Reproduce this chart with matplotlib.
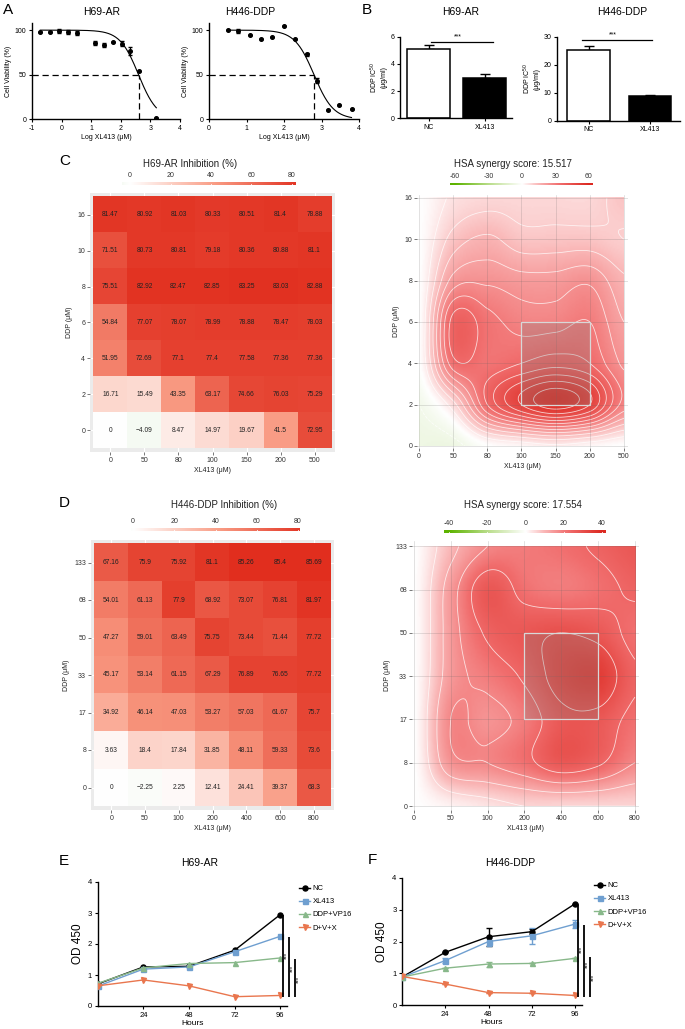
import numpy as np
import matplotlib
matplotlib.use("Agg")
import matplotlib.pyplot as plt
from matplotlib.colors import LinearSegmentedColormap, Normalize
from matplotlib.lines import Line2D

plt.rcParams["font.family"] = ["Liberation Sans", "DejaVu Sans"]
plt.rcParams["mathtext.fontset"] = "custom"
plt.rcParams["mathtext.rm"] = "Liberation Sans"
plt.rcParams["axes.unicode_minus"] = False

# ===================== Data =====================
# A: dose response (log XL413, viability %)
A1_X = [-0.72, -0.40, -0.09, 0.22, 0.53, 1.13, 1.43, 1.72, 2.03, 2.31, 2.63, 3.20]
A1_Y = [97.8, 97.4, 98.9, 97.7, 97.0, 85.8, 83.2, 87.0, 85.0, 76.5, 54.0, 1.0]
A1_E = [0, 0, 2.5, 2.5, 2.5, 2.0, 2.5, 0, 3.0, 4.5, 0, 0]
A1_FIT = dict(top=100.0, bottom=0.0, logic50=2.6, hill=1.38, lo=-0.72, hi=3.2)

A2_X = [0.50, 0.78, 1.09, 1.38, 1.69, 2.00, 2.29, 2.60, 2.88, 3.18, 3.47, 3.80]
A2_Y = [100.0, 99.0, 94.4, 89.6, 92.5, 105.0, 90.0, 73.0, 43.5, 10.4, 16.0, 11.0]
A2_E = [0, 2.5, 0, 0, 0, 0, 0, 1.5, 3.0, 0, 0, 0]
A2_FIT = dict(top=100.0, bottom=0.0, logic50=2.8, hill=1.69, lo=0.5, hi=3.8)

# B: DDP IC50
B_GROUPS = ["NC", "XL413"]
B1_VALS = [5.07, 2.99]
B1_ERR = [0.32, 0.24]
B2_VALS = [25.2, 8.9]
B2_ERR = [1.5, 0.45]

# C / D: inhibition matrices (rows from top DDP high -> low)
C_X_LABELS = ["0", "50", "80", "100", "150", "200", "500"]
C_Y_LABELS = ["0", "2", "4", "6", "8", "10", "16"]
C_INHIB = [
    [81.47, 80.92, 81.03, 80.33, 80.51, 81.4, 78.88],
    [71.51, 80.73, 80.81, 79.18, 80.36, 80.88, 81.1],
    [75.51, 82.92, 82.47, 82.85, 83.25, 83.03, 82.88],
    [54.84, 77.07, 78.07, 78.99, 78.88, 78.47, 78.03],
    [51.95, 72.69, 77.1, 77.4, 77.58, 77.36, 77.36],
    [16.71, 15.49, 43.35, 63.17, 74.66, 76.03, 75.29],
    [0, -4.09, 8.47, 14.97, 19.67, 41.5, 72.95],
]
# HSA synergy scores estimated from the map (rows bottom DDP 0 -> top)
C_SYN = [
    [-7, -7, 0, 2, 4, 2, 0],
    [-5, 8, 35, 50, 58, 50, 28],
    [0, 33, 32, 35, 38, 35, 24],
    [0, 37, 32, 28, 28, 30, 20],
    [0, 22, 24, 22, 22, 24, 16],
    [0, 12, 16, 12, 12, 12, 10],
    [0, 6, 8, 8, 8, 8, 12],
]
C_BOX = (3, 5, 1, 3)  # x0, x1, y0, y1 grid index

D_X_LABELS = ["0", "50", "100", "200", "400", "600", "800"]
D_Y_LABELS = ["0", "8", "17", "33", "50", "68", "133"]
D_INHIB = [
    [67.16, 75.9, 75.92, 81.1, 85.26, 85.4, 85.69],
    [54.01, 61.13, 77.9, 68.92, 73.07, 76.81, 81.97],
    [47.27, 59.01, 63.49, 75.75, 73.44, 71.44, 77.72],
    [45.17, 53.14, 61.15, 67.29, 76.89, 76.65, 77.72],
    [34.92, 46.14, 47.03, 53.27, 57.03, 61.67, 75.7],
    [3.63, 18.4, 17.84, 31.85, 48.11, 59.33, 73.6],
    [0, -2.25, 2.25, 12.41, 24.41, 39.37, 68.3],
]
D_SYN = [
    [0, 2, 4, 6, 6, 6, 6],
    [0, 16, 18, 22, 28, 25, 18],
    [0, 18, 16, 20, 28, 28, 22],
    [0, 15, 20, 25, 33, 35, 25],
    [0, 15, 25, 28, 30, 28, 22],
    [0, 15, 28, 22, 20, 22, 25],
    [0, 10, 18, 20, 22, 25, 28],
]
D_BOX = (3, 5, 2, 4)

# E / F: growth curves
HOURS = [0, 24, 48, 72, 96]
SERIES = ["NC", "XL413", "DDP+VP16", "D+V+X"]
E_VALS = {
    "NC": [0.71, 1.26, 1.28, 1.80, 2.95],
    "XL413": [0.64, 1.19, 1.26, 1.75, 2.25],
    "DDP+VP16": [0.73, 1.23, 1.37, 1.40, 1.55],
    "D+V+X": [0.65, 0.84, 0.65, 0.30, 0.34],
}
F_VALS = {
    "NC": [0.88, 1.66, 2.15, 2.31, 3.19],
    "XL413": [0.88, 1.40, 2.00, 2.18, 2.55],
    "DDP+VP16": [0.88, 1.16, 1.29, 1.31, 1.47],
    "D+V+X": [0.90, 0.66, 0.39, 0.37, 0.30],
}
F_ERR = {
    "NC": [0, 0, 0.28, 0.08, 0],
    "XL413": [0, 0.08, 0.15, 0.25, 0.12],
    "DDP+VP16": [0, 0, 0.08, 0, 0],
    "D+V+X": [0, 0, 0, 0, 0],
}
E_SIG = [(2.95, 0.30), (2.23, 0.30), (1.53, 0.30)]
F_SIG = [(3.16, 0.26), (2.53, 0.26), (1.50, 0.26)]

COLORS = {"NC": "#000000", "XL413": "#6F9FD0", "DDP+VP16": "#88B88A", "D+V+X": "#E9764E"}
MARKERS = {"NC": "o", "XL413": "s", "DDP+VP16": "^", "D+V+X": "v"}

# ===================== Layout helpers =====================
W, H = 685, 1029
fig = plt.figure(figsize=(W / 100, H / 100), dpi=100)


def px_axes(x0, y0, x1, y1):
    return fig.add_axes([x0 / W, 1 - y1 / H, (x1 - x0) / W, (y1 - y0) / H])


def ftext(x, y, s, **kw):
    kw.setdefault("ha", "center")
    kw.setdefault("va", "center")
    return fig.text(x / W, 1 - y / H, s, **kw)


def prism_style(ax):
    for s in ["top", "right"]:
        ax.spines[s].set_visible(False)
    for s in ["left", "bottom"]:
        ax.spines[s].set_linewidth(1.0)
    ax.tick_params(direction="out", length=2.5, width=0.8, labelsize=5, pad=1.5)


def upsample(z, n=140):
    z = np.asarray(z, float)

    def interp(a, t):
        m = a.shape[0]
        i = np.clip(np.floor(t).astype(int), 0, m - 2)
        f = (t - i)[:, None]
        p0 = a[np.clip(i - 1, 0, m - 1)]
        p1 = a[i]
        p2 = a[i + 1]
        p3 = a[np.clip(i + 2, 0, m - 1)]
        return 0.5 * (2 * p1 + (-p0 + p2) * f + (2 * p0 - 5 * p1 + 4 * p2 - p3) * f ** 2
                      + (-p0 + 3 * p1 - 3 * p2 + p3) * f ** 3)

    zz = interp(z, np.linspace(0, z.shape[0] - 1, n))
    zz = interp(zz.T, np.linspace(0, z.shape[1] - 1, n)).T
    return zz


INHIB_CMAP = LinearSegmentedColormap.from_list(
    "inhib", [(0, "#4DAC26"), (0.5, "#FFFFFF"), (0.75, "#F99B83"), (1.0, "#E12E1E")])
INHIB_NORM = Normalize(-85, 85)
SYN_CMAP = LinearSegmentedColormap.from_list(
    "syn", [(0, "#5DB300"), (0.25, "#B9DD8A"), (0.5, "#FFFFFF"), (0.62, "#FAB9B9"),
            (0.78, "#F16E6E"), (1.0, "#DC2A22")])

# ===================== Panel A =====================
def dose_panel(box, xs, ys, es, fit, xlim, xticks, title, title_x):
    ax = px_axes(*box)
    prism_style(ax)
    xx = np.linspace(fit["lo"], fit["hi"], 200)
    yy = fit["bottom"] + (fit["top"] - fit["bottom"]) / (1 + 10 ** ((xx - fit["logic50"]) * fit["hill"]))
    ax.plot(xx, yy, color="black", lw=0.8)
    ax.errorbar(xs, ys, yerr=es, fmt="o", ms=2.6, color="black", capsize=1.5, elinewidth=0.8)
    ax.plot([xlim[0], fit["logic50"]], [50, 50], ls=(0, (5, 3)), color="black", lw=0.9)
    ax.plot([fit["logic50"], fit["logic50"]], [0, 50], ls=(0, (5, 3)), color="black", lw=0.9)
    ax.set_xlim(*xlim)
    ax.set_ylim(0, 108)
    ax.set_xticks(xticks)
    ax.set_yticks([0, 50, 100])
    ax.set_xlabel("Log XL413 (μM)", fontsize=5, labelpad=1.5)
    ax.set_ylabel("Cell Viability (%)", fontsize=5, labelpad=2)
    ftext(title_x, 12, title, fontsize=7.5)
    return ax


dose_panel((32, 23, 180, 119.3), A1_X, A1_Y, A1_E, A1_FIT, (-1, 4), range(-1, 5), "H69-AR", 102)
dose_panel((209, 23, 359, 119.3), A2_X, A2_Y, A2_E, A2_FIT, (0, 4), range(0, 5), "H446-DDP", 250)

# ===================== Panel B =====================
def bar_panel(box, vals, errs, xlim, width, ymax, yticks, sig_y, sig_x, title, title_x):
    ax = px_axes(*box)
    prism_style(ax)
    xs = np.arange(len(vals))
    ax.bar(xs, vals, width=width, color=["white", "black"], edgecolor="black", lw=1.1, zorder=2)
    ax.errorbar(xs, vals, yerr=[[0, 0], errs], fmt="none", ecolor="black", capsize=3.5,
                elinewidth=1.0, capthick=1.0, zorder=1)
    ax.plot(sig_x, [sig_y, sig_y], color="black", lw=0.9)
    ax.text(np.mean(sig_x) - 0.07, sig_y + ymax * 0.015, "***", ha="center", va="bottom", fontsize=5)
    ax.set_xlim(*xlim)
    ax.set_ylim(0, ymax)
    ax.set_xticks(xs)
    ax.set_xticklabels(B_GROUPS)
    ax.set_yticks(yticks)
    ax.set_ylabel("DDP IC$^{50}$\n(μg/ml)", fontsize=5, labelpad=2, linespacing=1.1)
    ftext(title_x, 12, title, fontsize=7.5)
    return ax


bar_panel((400, 36.7, 512, 118.3), B1_VALS, B1_ERR, (-0.51, 1.49), 0.77, 6, [0, 2, 4, 6],
          5.64, [0.05, 1.15], "H69-AR", 461)
bar_panel((557, 36.7, 680, 120.7), B2_VALS, B2_ERR, (-0.52, 1.49), 0.70, 30, [0, 10, 20, 30],
          29.0, [-0.11, 1.03], "H446-DDP", 622)

# ===================== Heatmaps =====================
def heat_panel(box, mat, xlabels, ylabels, title, title_xy, cbar_box, cbar_range):
    ax = px_axes(*box)
    ax.set_facecolor("#EBEBEB")
    m = np.asarray(mat, float)[::-1]
    ax.imshow(m, cmap=INHIB_CMAP, norm=INHIB_NORM, origin="lower",
              extent=(-0.5, 6.5, -0.5, 6.5), aspect="auto", zorder=2)
    for i in range(7):
        for j in range(7):
            v = m[i, j]
            s = f"{v:g}".replace("-", "\u2212")
            ax.text(j, i, s, ha="center", va="center", fontsize=4.8, color="#222222", zorder=3)
    ax.set_xlim(-0.6, 6.6)
    ax.set_ylim(-0.6, 6.6)
    ax.set_xticks(range(7))
    ax.set_yticks(range(7))
    ax.set_xticklabels(xlabels)
    ax.set_yticklabels(ylabels)
    ax.grid(color="white", lw=0.8, zorder=0)
    ax.set_axisbelow(True)
    for s in ax.spines.values():
        s.set_visible(False)
    ax.tick_params(length=2, width=0.5, color="#444444", labelsize=5, labelcolor="#333333", pad=1.5)
    ax.set_xlabel("XL413 (μM)", fontsize=5, color="#222222", labelpad=2)
    ax.set_ylabel("DDP (μM)", fontsize=5, color="#222222", labelpad=3)
    ftext(*title_xy, title, fontsize=7, color="#222222")
    # legend colour bar
    cax = px_axes(*cbar_box)
    grad = np.linspace(cbar_range[0], cbar_range[1], 256)[None, :]
    cax.imshow(grad, cmap=INHIB_CMAP, norm=INHIB_NORM, aspect="auto",
               extent=(cbar_range[0], cbar_range[1], 0, 1))
    cax.set_xlim(*cbar_range)
    cax.set_yticks([])
    cax.set_xticks([0, 20, 40, 60, 80])
    for t in [0, 20, 40, 60, 80]:
        cax.plot([t, t], [0, 0.25], color="white", lw=0.6)
        cax.plot([t, t], [0.75, 1], color="white", lw=0.6)
    cax.xaxis.tick_top()
    cax.tick_params(length=0, labelsize=5, labelcolor="#333333", pad=2)
    for s in cax.spines.values():
        s.set_visible(False)
    return ax


heat_panel((90, 193, 335, 452), C_INHIB, C_X_LABELS, C_Y_LABELS, "H69-AR Inhibition (%)",
           (190, 164), (122, 181.5, 296, 184.8), (-4, 82))
heat_panel((91, 540, 334, 810), D_INHIB, D_X_LABELS, D_Y_LABELS, "H446-DDP Inhibition (%)",
           (224, 505), (131, 527.5, 300, 531), (-1, 81))

# ===================== Synergy maps =====================
def syn_panel(box, syn, xlabels, ylabels, xlim, ylim, vmax, sbox, title, title_xy,
              cbar_box, cbar_range, cticks, step):
    ax = px_axes(*box)
    norm = Normalize(-vmax, vmax)
    zz = upsample(syn)
    n = zz.shape[0]
    g = np.linspace(0, 6, n)
    ax.imshow(zz, cmap=SYN_CMAP, norm=norm, origin="lower", extent=(0, 6, 0, 6),
              aspect="auto", interpolation="bilinear", zorder=1)
    X, Y = np.meshgrid(g, g)
    levels = [lv for lv in np.arange(-60, 65, step) if lv != 0]
    ax.contour(X, Y, zz, levels=levels, colors="white", linewidths=0.6, alpha=0.75, zorder=2)
    x0, x1, y0, y1 = sbox
    ax.add_patch(plt.Rectangle((x0, y0), x1 - x0, y1 - y0, facecolor="#808080", alpha=0.28,
                               edgecolor="none", zorder=3))
    ax.add_patch(plt.Rectangle((x0, y0), x1 - x0, y1 - y0, facecolor="none",
                               edgecolor="#D8D8D8", lw=0.9, zorder=4))
    for t in range(7):
        ax.axvline(t, color="#606060", lw=0.5, alpha=0.25, zorder=2.5)
        ax.axhline(t, color="#606060", lw=0.5, alpha=0.25, zorder=2.5)
    ax.set_xlim(*xlim)
    ax.set_ylim(*ylim)
    ax.set_xticks(range(7))
    ax.set_yticks(range(7))
    ax.set_xticklabels(xlabels)
    ax.set_yticklabels(ylabels)
    for s in ax.spines.values():
        s.set_visible(False)
    ax.tick_params(length=2, width=0.5, color="#444444", labelsize=5, labelcolor="#333333", pad=1.5)
    ax.set_xlabel("XL413 (μM)", fontsize=5, color="#222222", labelpad=2)
    ax.set_ylabel("DDP (μM)", fontsize=5, color="#222222", labelpad=3)
    ftext(*title_xy, title, fontsize=7, color="#222222")
    cax = px_axes(*cbar_box)
    grad = np.linspace(cbar_range[0], cbar_range[1], 256)[None, :]
    cax.imshow(grad, cmap=SYN_CMAP, norm=norm, aspect="auto",
               extent=(cbar_range[0], cbar_range[1], 0, 1))
    cax.set_xlim(*cbar_range)
    cax.set_yticks([])
    cax.set_xticks(cticks)
    for t in cticks:
        cax.plot([t, t], [0, 0.25], color="white", lw=0.6)
        cax.plot([t, t], [0.75, 1], color="white", lw=0.6)
    cax.xaxis.tick_top()
    cax.tick_params(length=0, labelsize=5, labelcolor="#333333", pad=2)
    for s in cax.spines.values():
        s.set_visible(False)
    return ax


syn_panel((417, 195, 628, 448), C_SYN, C_X_LABELS, C_Y_LABELS, (-0.06, 6.12), (-0.05, 6.07), 60,
          C_BOX, "HSA synergy score: 15.517", (513, 164), (450, 182.5, 593, 185.5), (-64.5, 63.6),
          [-60, -30, 0, 30, 60], 5)
syn_panel((412, 541, 639, 810), D_SYN, D_X_LABELS, D_Y_LABELS, (-0.05, 6.11), (-0.09, 6.12), 40,
          D_BOX, "HSA synergy score: 17.554", (523, 505), (444, 529.5, 606, 532.5), (-42.6, 42),
          [-40, -20, 0, 20, 40], 6)

# ===================== Panels E / F =====================
def growth_panel(box, vals, errs, xmax, sig, sig_x, star_y, title, title_x, leg_xy):
    ax = px_axes(*box)
    prism_style(ax)
    handles = []
    for name in SERIES:
        ax.errorbar(HOURS, vals[name], yerr=errs[name] if errs else None, color=COLORS[name],
                    marker=MARKERS[name], ms=3.6, lw=1.0, capsize=2.2, elinewidth=1.0, zorder=3)
        handles.append(Line2D([], [], color=COLORS[name], marker=MARKERS[name], ms=3.6, lw=1.0))
    for (ytop, ybot), x, sy in zip(sig, sig_x, star_y):
        ax.plot([x, x], [ybot, ytop], color="black", lw=1.3, clip_on=False, zorder=4,
                solid_capstyle="butt")
        ax.text(x + 1.7, sy, "***", rotation=90, ha="center", va="center", fontsize=4.5,
                clip_on=False)
    ax.set_xlim(0, xmax)
    ax.set_ylim(0, 4)
    ax.set_xticks([24, 48, 72, 96])
    ax.set_yticks([0, 1, 2, 3, 4])
    ax.tick_params(labelsize=5.5)
    ax.set_xlabel("Hours", fontsize=6, labelpad=1)
    ax.set_ylabel("OD 450", fontsize=8.5, labelpad=3)
    ftext(title_x, 863, title, fontsize=7.5)
    ax.legend(handles, SERIES, loc="upper left", bbox_to_anchor=(leg_xy[0] / W, 1 - leg_xy[1] / H),
              bbox_transform=fig.transFigure, frameon=False, fontsize=5.5, handlelength=1.5,
              handletextpad=0.3, labelspacing=0.75, borderaxespad=0, borderpad=0)
    return ax


growth_panel((97.7, 882, 287, 1006), E_VALS, None, 99.5, E_SIG, [97.3, 100.5, 103.6],
             [1.64, 1.21, 0.86], "H69-AR", 200, (299, 885))
growth_panel((402, 878, 582, 1005), F_VALS, F_ERR, 99.8, F_SIG, [97.6, 100.9, 104.2],
             [1.74, 1.29, 0.87], "H446-DDP", 510, (594, 882))

# ===================== Panel letters =====================
for letter, x, y in [("A", 8, 10), ("B", 367, 10), ("C", 65, 161), ("D", 64, 503),
                     ("E", 64, 861), ("F", 372, 860)]:
    ftext(x, y, letter, fontsize=11)

fig.savefig("out.png", dpi=100)
